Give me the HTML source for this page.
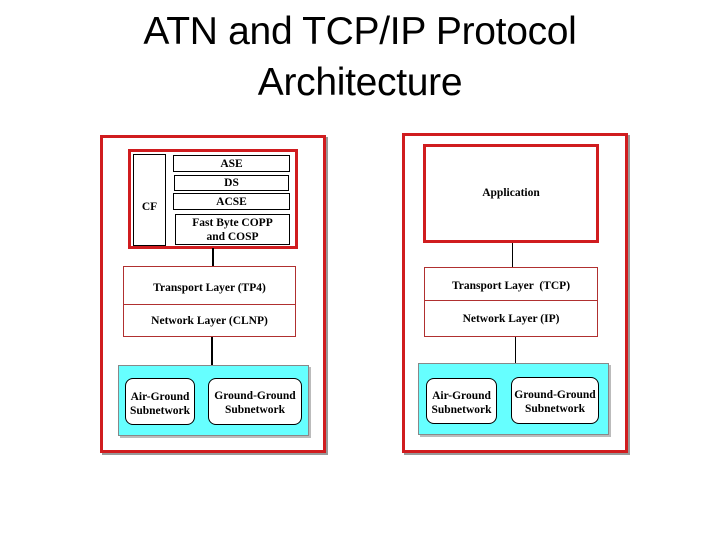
<!DOCTYPE html>
<html><head><style>
body{margin:0;width:720px;height:540px;background:#fff;position:relative;overflow:hidden;font-family:"Liberation Serif",serif}
.a{position:absolute;box-sizing:border-box}
.t{display:flex;align-items:center;justify-content:center;text-align:center;font-weight:bold;font-size:11.5px;line-height:14px;color:#000}
.title{position:absolute;left:0;width:720px;top:6px;text-align:center;font-family:"Liberation Sans",sans-serif;font-size:39px;line-height:51px;color:#000;letter-spacing:-0.3px}
.outer{border:3px solid #d01c1f;box-shadow:2px 2px 0 #999}
.thin{border:1px solid #000}
.lay{border:1px solid #b03030}
.cy{background:#66ffff;border:1px solid #888;box-shadow:2px 2px 0 #bbb}
.sub{background:#fff;border:1px solid #000;border-radius:8px}
</style></head><body>
<div class="title">ATN and TCP/IP Protocol<br>Architecture</div>

<!-- left -->
<div class="a outer" style="left:100px;top:135px;width:226px;height:318px"></div>
<div class="a" style="left:128px;top:149px;width:170px;height:100px;border:3px solid #d01c1f"></div>
<div class="a thin t" style="left:133px;top:154px;width:33px;height:92px;padding-top:14px">CF</div>
<div class="a thin t" style="left:173px;top:155px;width:117px;height:17px">ASE</div>
<div class="a thin t" style="left:174px;top:175px;width:115px;height:16px">DS</div>
<div class="a thin t" style="left:173px;top:193px;width:117px;height:17px">ACSE</div>
<div class="a thin t" style="left:175px;top:214px;width:115px;height:31px">Fast Byte COPP<br>and COSP</div>
<div class="a" style="left:212px;top:248px;width:2px;height:19px;background:#000"></div>
<div class="a lay t" style="left:123px;top:266px;width:173px;height:39px;padding-top:4px">Transport Layer (TP4)</div>
<div class="a lay t" style="left:123px;top:304px;width:173px;height:33px">Network Layer (CLNP)</div>
<div class="a" style="left:211px;top:337px;width:2px;height:29px;background:#000"></div>
<div class="a cy" style="left:118px;top:365px;width:191px;height:71px"></div>
<div class="a sub t" style="left:125px;top:378px;width:70px;height:47px;padding-top:4px">Air-Ground<br>Subnetwork</div>
<div class="a sub t" style="left:208px;top:378px;width:94px;height:47px;padding-top:2px">Ground-Ground<br>Subnetwork</div>

<!-- right -->
<div class="a outer" style="left:402px;top:133px;width:226px;height:320px"></div>
<div class="a t" style="left:423px;top:144px;width:176px;height:99px;border:3px solid #d01c1f;padding-bottom:2px">Application</div>
<div class="a" style="left:512px;top:243px;width:1px;height:24px;background:#000"></div>
<div class="a lay t" style="left:424px;top:267px;width:174px;height:34px;padding-top:4px">Transport Layer &nbsp;(TCP)</div>
<div class="a lay t" style="left:424px;top:300px;width:174px;height:37px">Network Layer (IP)</div>
<div class="a" style="left:515px;top:337px;width:1px;height:27px;background:#000"></div>
<div class="a cy" style="left:418px;top:363px;width:191px;height:72px"></div>
<div class="a sub t" style="left:426px;top:378px;width:71px;height:46px;padding-top:4px">Air-Ground<br>Subnetwork</div>
<div class="a sub t" style="left:511px;top:377px;width:88px;height:47px;padding-top:2px">Ground-Ground<br>Subnetwork</div>
</body></html>
